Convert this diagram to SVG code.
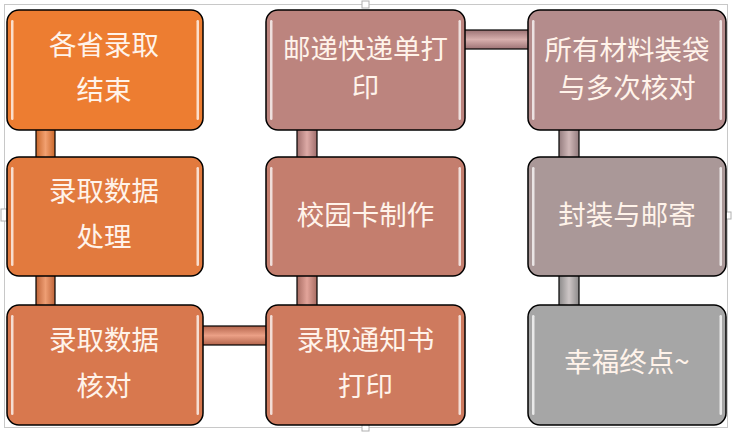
<svg xmlns="http://www.w3.org/2000/svg" width="732" height="433" viewBox="0 0 732 433">
<style>
.box{stroke:#000;stroke-width:1.5}
.hl{fill:#fff;fill-opacity:0.75}
.bar{stroke:#000;stroke-width:1.2}
.t{font-family:"Noto Sans CJK SC","Noto Sans",sans-serif;font-size:27.5px;fill:#FFF3EA;text-anchor:middle}
.frame{fill:none;stroke:#C8C8C8;stroke-width:1}
.handle{fill:#fff;stroke:#B0B0B0;stroke-width:1}
</style>
<defs>
<linearGradient id="gv1" x1="0" y1="0" x2="1" y2="0"><stop offset="0" stop-color="#C9672A"/><stop offset="0.5" stop-color="#F2A070"/><stop offset="1" stop-color="#C9672A"/></linearGradient>
<linearGradient id="gv2" x1="0" y1="0" x2="1" y2="0"><stop offset="0" stop-color="#BF6438"/><stop offset="0.5" stop-color="#EE9E74"/><stop offset="1" stop-color="#BF6438"/></linearGradient>
<linearGradient id="gh3" x1="0" y1="0" x2="0" y2="1"><stop offset="0" stop-color="#B4654C"/><stop offset="0.5" stop-color="#EBA086"/><stop offset="1" stop-color="#B4654C"/></linearGradient>
<linearGradient id="gv4" x1="0" y1="0" x2="1" y2="0"><stop offset="0" stop-color="#A86C62"/><stop offset="0.5" stop-color="#E2A49A"/><stop offset="1" stop-color="#A86C62"/></linearGradient>
<linearGradient id="gv5" x1="0" y1="0" x2="1" y2="0"><stop offset="0" stop-color="#A06E6C"/><stop offset="0.5" stop-color="#DDAAA6"/><stop offset="1" stop-color="#A06E6C"/></linearGradient>
<linearGradient id="gh6" x1="0" y1="0" x2="0" y2="1"><stop offset="0" stop-color="#9C7274"/><stop offset="0.5" stop-color="#D8B0AE"/><stop offset="1" stop-color="#9C7274"/></linearGradient>
<linearGradient id="gv7" x1="0" y1="0" x2="1" y2="0"><stop offset="0" stop-color="#947C7E"/><stop offset="0.5" stop-color="#D0B8B8"/><stop offset="1" stop-color="#947C7E"/></linearGradient>
<linearGradient id="gv8" x1="0" y1="0" x2="1" y2="0"><stop offset="0" stop-color="#8C8A8A"/><stop offset="0.5" stop-color="#CDC6C6"/><stop offset="1" stop-color="#8C8A8A"/></linearGradient>
</defs>

<rect class="frame" x="4.5" y="4.5" width="723" height="423"/>
<rect class="handle" x="362" y="1" width="7" height="7"/>
<rect class="handle" x="362" y="424" width="7" height="7"/>
<rect class="handle" x="725" y="212" width="6" height="7"/>
<rect class="handle" x="1" y="209" width="6" height="12"/>

<g id="connectors">
<rect class="bar" x="36" y="129" width="19" height="29" fill="url(#gv1)"/>
<rect class="bar" x="36" y="275" width="19" height="31" fill="url(#gv2)"/>
<rect class="bar" x="202" y="326" width="65" height="19" fill="url(#gh3)"/>
<rect class="bar" x="297" y="275" width="20" height="31" fill="url(#gv4)"/>
<rect class="bar" x="297" y="129" width="20" height="29" fill="url(#gv5)"/>
<rect class="bar" x="464" y="30" width="65" height="19" fill="url(#gh6)"/>
<rect class="bar" x="559" y="129" width="20" height="29" fill="url(#gv7)"/>
<rect class="bar" x="559" y="275" width="20" height="31" fill="url(#gv8)"/>
</g>

<g id="n1">
<rect class="box" x="7" y="10" width="196" height="120" rx="12" fill="#ED7D31"/>
<rect class="hl" x="11" y="20" width="2.5" height="100" rx="1.2"/>
<rect class="hl" x="196.5" y="20" width="2.5" height="100" rx="1.2"/>
<text class="t" x="104" y="55">各省录取<tspan x="104" dy="45">结束</tspan></text>
</g>

<g id="n2">
<rect class="box" x="7" y="157" width="196" height="119" rx="12" fill="#E27A3E"/>
<rect class="hl" x="11" y="167" width="2.5" height="99" rx="1.2"/>
<rect class="hl" x="196.5" y="167" width="2.5" height="99" rx="1.2"/>
<text class="t" x="104" y="201">录取数据<tspan x="104" dy="46">处理</tspan></text>
</g>

<g id="n3">
<rect class="box" x="7" y="305" width="196" height="120" rx="12" fill="#D8784E"/>
<rect class="hl" x="11" y="315" width="2.5" height="100" rx="1.2"/>
<rect class="hl" x="196.5" y="315" width="2.5" height="100" rx="1.2"/>
<text class="t" x="104" y="350">录取数据<tspan x="104" dy="46">核对</tspan></text>
</g>

<g id="n4">
<rect class="box" x="266" y="305" width="199" height="120" rx="12" fill="#CE7A5E"/>
<rect class="hl" x="270" y="315" width="2.5" height="100" rx="1.2"/>
<rect class="hl" x="458.5" y="315" width="2.5" height="100" rx="1.2"/>
<text class="t" x="365.5" y="350">录取通知书<tspan x="365.5" dy="46">打印</tspan></text>
</g>

<g id="n5">
<rect class="box" x="266" y="157" width="199" height="119" rx="12" fill="#C47E6E"/>
<rect class="hl" x="270" y="167" width="2.5" height="99" rx="1.2"/>
<rect class="hl" x="458.5" y="167" width="2.5" height="99" rx="1.2"/>
<text class="t" x="365.5" y="225">校园卡制作</text>
</g>

<g id="n6">
<rect class="box" x="266" y="10" width="199" height="120" rx="12" fill="#BC847E"/>
<rect class="hl" x="270" y="20" width="2.5" height="100" rx="1.2"/>
<rect class="hl" x="458.5" y="20" width="2.5" height="100" rx="1.2"/>
<text class="t" x="365.5" y="59">邮递快递单打<tspan x="365.5" dy="38">印</tspan></text>
</g>

<g id="n7">
<rect class="box" x="528" y="10" width="198" height="120" rx="12" fill="#B48C8C"/>
<rect class="hl" x="532" y="20" width="2.5" height="100" rx="1.2"/>
<rect class="hl" x="719.5" y="20" width="2.5" height="100" rx="1.2"/>
<text class="t" x="627" y="60">所有材料装袋<tspan x="627" dy="38">与多次核对</tspan></text>
</g>

<g id="n8">
<rect class="box" x="528" y="157" width="198" height="119" rx="12" fill="#AA9898"/>
<rect class="hl" x="532" y="167" width="2.5" height="99" rx="1.2"/>
<rect class="hl" x="719.5" y="167" width="2.5" height="99" rx="1.2"/>
<text class="t" x="627" y="225">封装与邮寄</text>
</g>

<g id="n9">
<rect class="box" x="528" y="305" width="198" height="120" rx="12" fill="#A6A6A6"/>
<rect class="hl" x="532" y="315" width="2.5" height="100" rx="1.2"/>
<rect class="hl" x="719.5" y="315" width="2.5" height="100" rx="1.2"/>
<text class="t" x="627" y="372">幸福终点~</text>
</g>
</svg>
